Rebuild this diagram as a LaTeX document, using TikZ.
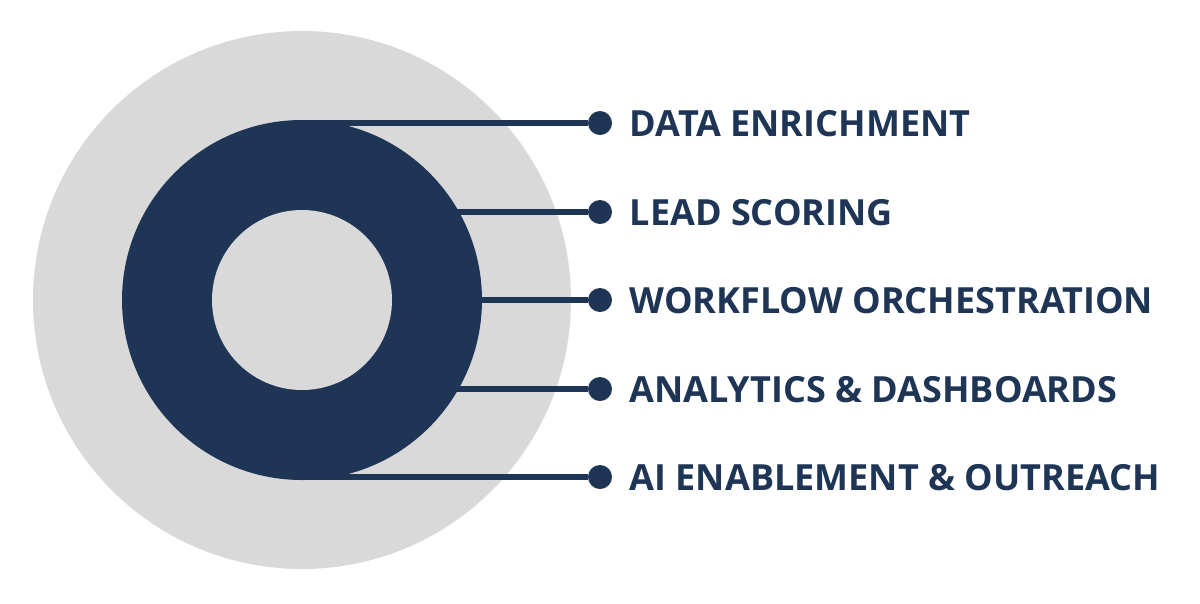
\documentclass[tikz,border=0pt]{standalone}
\usepackage{fontspec}
\setmainfont{Open Sans}
\usepackage{tikz}
\usetikzlibrary{positioning}
\usetikzlibrary{calc}
\definecolor{hubnavy}{HTML}{1F3556}
\definecolor{hubgray}{HTML}{D9D9D9}
\tikzset{
	stem/.style={
		draw=hubnavy, line width=3.4pt
	},
	stem dot/.style={
		circle, fill=hubnavy, inner sep=0pt, minimum size=0.48cm
	},
	every item/.style={
		inner sep=0pt, text depth=0pt, anchor=west, text=hubnavy,
		font=\fontsize{20.5}{24}\selectfont\bfseries
	}
}
\begin{document}
\begin{tikzpicture}[x=0.02cm, y=-0.02cm, node distance=0.34cm]
	\useasboundingbox (0,0) rectangle (1200,603);
	\coordinate (hub) at (302,300);
	\fill[hubgray] (hub) circle (269);

	\foreach \n/\y/\txt in {1/123/DATA ENRICHMENT,
		2/212/LEAD SCORING,
		3/300/WORKFLOW ORCHESTRATION,
		4/389/ANALYTICS \& DASHBOARDS,
		5/477/AI ENABLEMENT \& OUTREACH} {
		\node[stem dot] (dot-\n) at (600,\y) {};
		\node[every item/.try, right=of dot-\n] (item-\n) {\txt};
		\coordinate (stem-\n) at (302,\y);
		\draw[stem] (stem-\n) -- (dot-\n);
	}

	% ring over the stems, then the hole
	\fill[hubnavy] (hub) circle (180);
	\fill[hubgray] (hub) circle (90);
\end{tikzpicture}
\end{document}
